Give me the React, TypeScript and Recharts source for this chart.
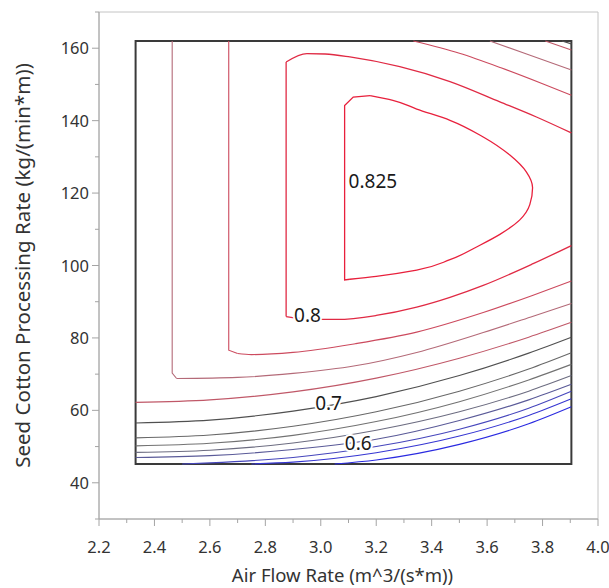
import { ComposedChart, Line, Scatter, XAxis, YAxis, ReferenceArea } from 'recharts'

const xTicks = [2.2, 2.3, 2.4, 2.5, 2.6, 2.7, 2.8, 2.9, 3.0, 3.1, 3.2, 3.3, 3.4, 3.5, 3.6, 3.7, 3.8, 3.9, 4.0]
const yTicks = [30, 40, 50, 60, 70, 80, 90, 100, 110, 120, 130, 140, 150, 160, 170]

// design region (box drawn around the contours)
const regionX = [2.332, 3.904]
const regionY = [45.2, 162]

// contour pieces: x = air flow, y = processing rate
const c825Left = [
  { x: 3.105, y: 96.2 }, { x: 3.086, y: 96.0 }, { x: 3.086, y: 144.2 }, { x: 3.117, y: 146.5 }, { x: 3.178, y: 146.9 },
]
const c825Right = [
  { x: 3.178, y: 146.9 }, { x: 3.26, y: 145.6 }, { x: 3.346, y: 143.2 }, { x: 3.466, y: 140.1 },
  { x: 3.586, y: 135.5 }, { x: 3.682, y: 130.5 }, { x: 3.742, y: 125.8 }, { x: 3.764, y: 121.5 },
  { x: 3.754, y: 116.8 }, { x: 3.718, y: 112.6 }, { x: 3.646, y: 108.6 }, { x: 3.574, y: 105.6 },
  { x: 3.466, y: 101.6 }, { x: 3.346, y: 98.7 }, { x: 3.2, y: 97.0 }, { x: 3.105, y: 96.2 },
]
const c800Bottom = [
  { x: 2.875, y: 85.9 }, { x: 2.95, y: 85.2 }, { x: 3.06, y: 85.1 }, { x: 3.2, y: 86.2 },
  { x: 3.346, y: 88.5 }, { x: 3.466, y: 91.2 }, { x: 3.586, y: 94.5 }, { x: 3.766, y: 100.5 }, { x: 3.904, y: 105.5 },
]
const c800Left = [{ x: 2.875, y: 85.9 }, { x: 2.875, y: 156.2 }]
const c800Top = [
  { x: 2.875, y: 156.2 }, { x: 2.95, y: 158.5 }, { x: 3.016, y: 158.4 }, { x: 3.105, y: 157.6 },
  { x: 3.285, y: 154.9 }, { x: 3.466, y: 150.8 }, { x: 3.646, y: 145.2 }, { x: 3.778, y: 141.0 }, { x: 3.904, y: 136.6 },
]
const c775Left = [{ x: 2.668, y: 162 }, { x: 2.668, y: 76.6 }, { x: 2.7, y: 75.7 }]
const c775Bottom = [
  { x: 2.7, y: 75.7 }, { x: 2.75, y: 75.4 }, { x: 2.9, y: 76.0 }, { x: 3.124, y: 78.4 }, { x: 3.346, y: 81.6 },
  { x: 3.586, y: 87.0 }, { x: 3.766, y: 91.8 }, { x: 3.904, y: 95.7 },
]
const c775Top = [
  { x: 3.334, y: 162 }, { x: 3.5, y: 158.6 }, { x: 3.65, y: 154.6 }, { x: 3.8, y: 150.2 }, { x: 3.904, y: 147.0 },
]
const c750Left = [{ x: 2.464, y: 162 }, { x: 2.464, y: 70.3 }, { x: 2.48, y: 68.8 }]
const c750Bottom = [
  { x: 2.48, y: 68.8 }, { x: 2.7, y: 69.1 }, { x: 2.9, y: 70.2 }, { x: 3.124, y: 72.3 }, { x: 3.346, y: 76.0 },
  { x: 3.586, y: 81.5 }, { x: 3.766, y: 86.0 }, { x: 3.904, y: 89.5 },
]
const c750Top = [{ x: 3.61, y: 162 }, { x: 3.75, y: 158.2 }, { x: 3.904, y: 154.0 }]
const c725 = [
  { x: 2.332, y: 62.2 }, { x: 2.6, y: 62.9 }, { x: 2.9, y: 65.1 }, { x: 3.2, y: 68.9 },
  { x: 3.5, y: 74.4 }, { x: 3.75, y: 80.2 }, { x: 3.904, y: 84.3 },
]
const c725Top = [{ x: 3.81, y: 162 }, { x: 3.904, y: 159.5 }]
const c700 = [
  { x: 2.332, y: 56.5 }, { x: 2.6, y: 57.3 }, { x: 2.9, y: 59.8 }, { x: 3.2, y: 63.8 },
  { x: 3.5, y: 69.6 }, { x: 3.75, y: 75.8 }, { x: 3.904, y: 80.2 },
]
const c700Top = [{ x: 3.87, y: 162 }, { x: 3.904, y: 161.2 }]
const c675 = [
  { x: 2.332, y: 52.4 }, { x: 2.6, y: 53.2 }, { x: 2.9, y: 55.6 }, { x: 3.2, y: 59.6 },
  { x: 3.5, y: 65.3 }, { x: 3.75, y: 71.4 }, { x: 3.904, y: 75.9 },
]
const c650 = [
  { x: 2.332, y: 50.2 }, { x: 2.6, y: 50.9 }, { x: 2.9, y: 53.1 }, { x: 3.2, y: 56.9 },
  { x: 3.5, y: 62.4 }, { x: 3.75, y: 68.4 }, { x: 3.904, y: 72.7 },
]
const c625 = [
  { x: 2.332, y: 48.4 }, { x: 2.6, y: 49.0 }, { x: 2.9, y: 51.0 }, { x: 3.2, y: 54.5 },
  { x: 3.5, y: 59.6 }, { x: 3.75, y: 65.3 }, { x: 3.904, y: 69.6 },
]
const c600 = [
  { x: 2.332, y: 47.0 }, { x: 2.6, y: 47.5 }, { x: 2.9, y: 49.2 }, { x: 3.2, y: 52.0 },
  { x: 3.5, y: 57.2 }, { x: 3.75, y: 62.9 }, { x: 3.904, y: 67.2 },
]
const c575 = [
  { x: 2.5, y: 45.2 }, { x: 2.6, y: 45.5 }, { x: 2.9, y: 47.0 }, { x: 3.2, y: 50.0 },
  { x: 3.5, y: 54.8 }, { x: 3.75, y: 60.6 }, { x: 3.904, y: 65.3 },
]
const c550 = [
  { x: 2.75, y: 45.2 }, { x: 2.9, y: 45.7 }, { x: 3.2, y: 48.3 }, { x: 3.5, y: 52.9 },
  { x: 3.75, y: 58.6 }, { x: 3.904, y: 63.2 },
]
const c525 = [
  { x: 3.05, y: 45.2 }, { x: 3.2, y: 46.3 }, { x: 3.5, y: 50.6 }, { x: 3.75, y: 56.3 }, { x: 3.904, y: 61.0 },
]

const contourLabels = [
  { x: 3.188, y: 123.3, text: '0.825' },
  { x: 2.952, y: 86.3, text: '0.8' },
  { x: 3.028, y: 62.0, text: '0.7' },
  { x: 3.135, y: 51.0, text: '0.6' },
]

type Piece = { level: number; data: { x: number; y: number }[]; curve: 'linear' | 'monotoneX' | 'monotoneY' }

const contours: Piece[] = [
  { level: 0.525, data: c525, curve: 'monotoneX' },
  { level: 0.55, data: c550, curve: 'monotoneX' },
  { level: 0.575, data: c575, curve: 'monotoneX' },
  { level: 0.6, data: c600, curve: 'monotoneX' },
  { level: 0.625, data: c625, curve: 'monotoneX' },
  { level: 0.65, data: c650, curve: 'monotoneX' },
  { level: 0.675, data: c675, curve: 'monotoneX' },
  { level: 0.7, data: c700, curve: 'monotoneX' },
  { level: 0.7, data: c700Top, curve: 'linear' },
  { level: 0.725, data: c725, curve: 'monotoneX' },
  { level: 0.725, data: c725Top, curve: 'linear' },
  { level: 0.75, data: c750Left, curve: 'linear' },
  { level: 0.75, data: c750Bottom, curve: 'monotoneX' },
  { level: 0.75, data: c750Top, curve: 'monotoneX' },
  { level: 0.775, data: c775Left, curve: 'linear' },
  { level: 0.775, data: c775Bottom, curve: 'monotoneX' },
  { level: 0.775, data: c775Top, curve: 'monotoneX' },
  { level: 0.8, data: c800Left, curve: 'linear' },
  { level: 0.8, data: c800Bottom, curve: 'monotoneX' },
  { level: 0.8, data: c800Top, curve: 'monotoneX' },
  { level: 0.825, data: c825Left, curve: 'linear' },
  { level: 0.825, data: c825Right, curve: 'monotoneY' },
]

const levelColor: Record<string, string> = {
  '0.525': '#2a2ae0',
  '0.55': '#3636d2',
  '0.575': '#4646bc',
  '0.6': '#5a5a98',
  '0.625': '#6c6c80',
  '0.65': '#727272',
  '0.675': '#686868',
  '0.7': '#505050',
  '0.725': '#c05868',
  '0.75': '#b46a78',
  '0.775': '#cc4a5e',
  '0.8': '#e02a44',
  '0.825': '#e8203c',
}

const FONT = '"Noto Sans", "DejaVu Sans", sans-serif'
const AXIS = '#a4a4a4'

function XTick(props: any) {
  const { x, y, payload } = props
  const v = payload.value as number
  const major = Math.round(v * 10) % 2 === 0
  return (
    <g>
      <line x1={x} y1={y} x2={x} y2={y + (major ? 7 : 4)} stroke={AXIS} />
      {major && (
        <text x={x} y={y + 34} textAnchor="middle" fontSize={16.5} fill="#333" fontFamily={FONT}>
          {v.toFixed(1)}
        </text>
      )}
    </g>
  )
}

function YTick(props: any) {
  const { x, y, payload } = props
  const v = payload.value as number
  const major = v % 20 === 0 && v >= 40 && v <= 160
  return (
    <g>
      <line x1={x} y1={y} x2={x - (major ? 7 : 4)} y2={y} stroke={AXIS} />
      {major && (
        <text x={x - 10} y={y + 6} textAnchor="end" fontSize={16.5} fill="#333" fontFamily={FONT}>
          {v}
        </text>
      )}
    </g>
  )
}

function ContourLabel(props: any) {
  const { cx, cy, payload } = props
  return (
    <text
      x={cx}
      y={cy}
      textAnchor="middle"
      dominantBaseline="central"
      fontSize={19}
      fill="#1a1a1a"
      fontFamily={FONT}
      stroke="#fff"
      strokeWidth={4}
      paintOrder="stroke"
    >
      {payload.text}
    </text>
  )
}

export default function App() {
  return (
    <div>
      <style>{'body{margin:0;overflow:hidden;background:#fff}'}</style>
      <ComposedChart width={609} height={588} margin={{ top: 12, right: 11, bottom: 0, left: 0 }}>
        <XAxis
          type="number"
          dataKey="x"
          domain={[2.2, 4.0]}
          ticks={xTicks}
          interval={0}
          tickSize={0}
          tickMargin={0}
          tickLine={false}
          tick={XTick}
          axisLine={{ stroke: AXIS }}
          height={69}
          allowDataOverflow
          label={{
            content: (p: any) => {
              const vb = p.viewBox
              return (
                <text
                  x={vb.x + vb.width / 2 - 6}
                  y={vb.y + vb.height - 6}
                  textAnchor="middle"
                  fontSize={18.5}
                  fill="#333"
                  fontFamily={FONT}
                >
                  Air Flow Rate (m^3/(s*m))
                </text>
              )
            },
          }}
        />
        <YAxis
          type="number"
          dataKey="y"
          domain={[30, 170]}
          ticks={yTicks}
          interval={0}
          tickSize={0}
          tickMargin={0}
          tickLine={false}
          tick={YTick}
          axisLine={{ stroke: AXIS }}
          width={99}
          allowDataOverflow
          label={{
            content: (p: any) => {
              const vb = p.viewBox
              const cx = vb.x + 22
              const cy = vb.y + vb.height / 2
              return (
                <text
                  x={cx}
                  y={cy}
                  transform={`rotate(-90 ${cx} ${cy})`}
                  textAnchor="middle"
                  dominantBaseline="central"
                  fontSize={20.5}
                  fill="#333"
                  fontFamily={FONT}
                >
                  Seed Cotton Processing Rate (kg/(min*m))
                </text>
              )
            },
          }}
        />
        <ReferenceArea x1={2.2} x2={4.0} y1={30} y2={170} fill="none" stroke="#c4c4c4" strokeWidth={1} />
        {contours.map((c, i) => (
          <Line
            key={`c-${i}`}
            data={c.data}
            dataKey="y"
            type={c.curve}
            stroke={levelColor[String(c.level)]}
            strokeWidth={c.level >= 0.8 ? 1.3 : 1.1}
            dot={false}
            activeDot={false}
            isAnimationActive={false}
          />
        ))}
        <ReferenceArea
          x1={regionX[0]}
          x2={regionX[1]}
          y1={regionY[0]}
          y2={regionY[1]}
          fill="none"
          stroke="#3a3a3a"
          strokeWidth={2}
        />
        <Scatter data={contourLabels} dataKey="y" shape={ContourLabel} isAnimationActive={false} />
      </ComposedChart>
    </div>
  )
}
